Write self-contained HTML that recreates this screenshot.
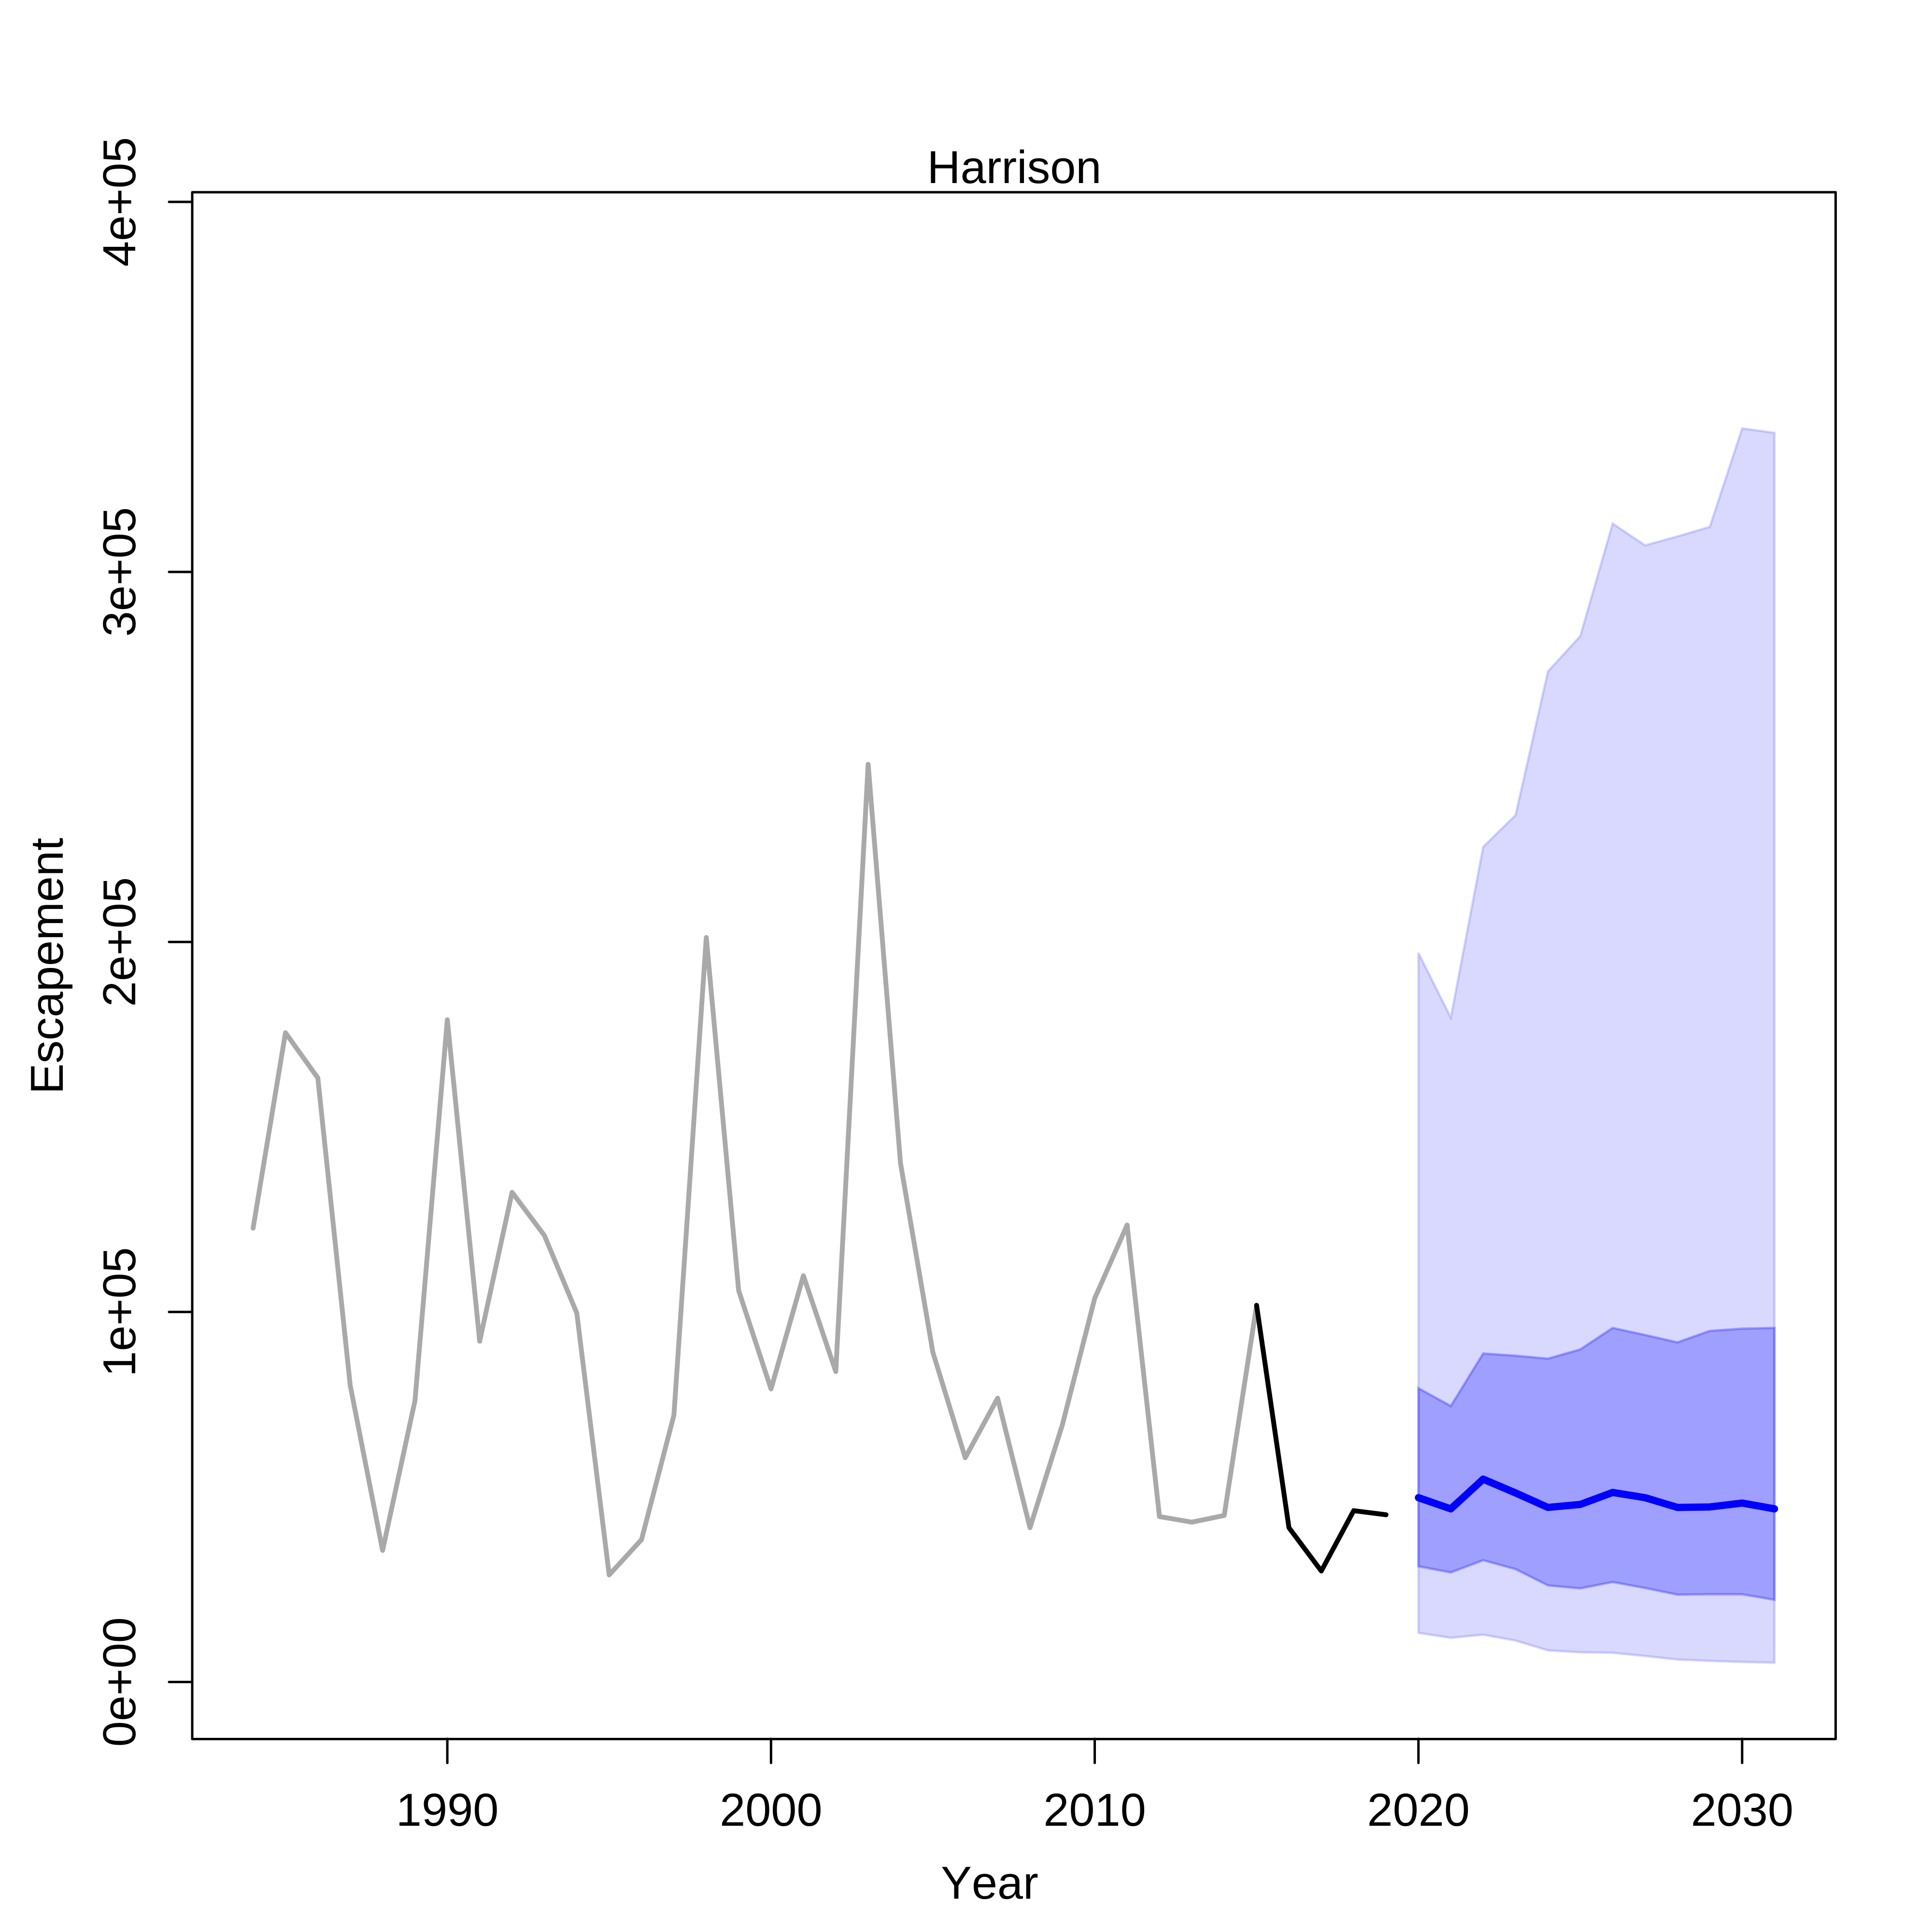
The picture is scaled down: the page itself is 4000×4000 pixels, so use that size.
<!DOCTYPE html>
<html lang="en">
<head>
<meta charset="utf-8">
<title>Harrison Escapement</title>
<style>
html,body{margin:0;padding:0;background:#fff;width:4000px;height:4000px;overflow:hidden}
svg{display:block}
text{font-family:"Liberation Sans",Arial,sans-serif;font-size:95.5px;font-kerning:none;fill:#000}
</style>
</head>
<body>
<svg id="chart" xmlns="http://www.w3.org/2000/svg" width="4000" height="4000" viewBox="0 0 4000 4000">
  <rect x="0" y="0" width="4000" height="4000" fill="#fff"/>
  <g id="bands"></g>
  <g id="lines"></g>
  <g id="axes"></g>
  <rect x="398" y="398" width="3402.5" height="3202.5" fill="none" stroke="#000" stroke-width="5" stroke-linejoin="round"/>
  <text x="2100" y="379" text-anchor="middle">Harrison</text>
  <text x="2049" y="3931" text-anchor="middle">Year</text>
  <text x="130" y="2000" text-anchor="middle" transform="rotate(-90 130 2000)">Escapement</text>
</svg>
<script>
const historyYears = [1984,1985,1986,1987,1988,1989,1990,1991,1992,1993,1994,1995,1996,1997,1998,1999,2000,2001,2002,2003,2004,2005,2006,2007,2008,2009,2010,2011,2012,2013,2014,2015];
const historyValues = [122640,175460,163240,80180,35560,76000,178960,92100,132340,120660,99700,28940,38500,72100,201200,105800,79200,109800,83900,248000,140200,89100,60600,76700,41700,69500,103700,123500,44700,43200,45000,101800];
const recentYears = [2015,2016,2017,2018,2019];
const recentValues = [101800,41700,30000,46300,45200];
const forecastYears = [2020,2021,2022,2023,2024,2025,2026,2027,2028,2029,2030,2031];
const outerUpper = [197050,179600,225700,234300,273100,282700,313100,307200,309600,312200,338800,337600];
const outerLower = [13280,11930,12770,11190,8540,8020,7890,7020,6060,5690,5400,5200];
const innerUpper = [79400,74600,88800,88200,87400,89900,95700,93800,91800,94900,95500,95700];
const innerLower = [31250,29600,32900,30500,26100,25300,27000,25400,23600,23700,23700,22200];
const medianValues = [49820,46790,54820,51100,47180,47990,51230,49820,47180,47310,48360,46790];
const xTickValues = [1990,2000,2010,2020,2030];
const xTickLabels = ["1990","2000","2010","2020","2030"];
const yTickValues = [0,100000,200000,300000,400000];
const yTickLabels = ["0e+00","1e+05","2e+05","3e+05","4e+05"];

const NS = "http://www.w3.org/2000/svg";
function xScale(year){ return 524 + (year - 1984) * 67.02; }
function yScale(value){ return 3482.4 - value * (3064.4 / 400000); }
function make(tag, parent){
  const el = document.createElementNS(NS, tag);
  parent.appendChild(el);
  return el;
}
function linePoints(xs, ys){
  return xs.map(function(x, i){ return xScale(x).toFixed(2) + "," + yScale(ys[i]).toFixed(2); }).join(" ");
}
function bandPoints(xs, upper, lower){
  const top = xs.map(function(x, i){ return xScale(x).toFixed(2) + "," + yScale(upper[i]).toFixed(2); });
  const bottom = xs.map(function(x, i){ return xScale(x).toFixed(2) + "," + yScale(lower[i]).toFixed(2); }).reverse();
  return top.concat(bottom).join(" ");
}
function styleLine(el, color, width){
  el.setAttribute("fill", "none");
  el.setAttribute("stroke", color);
  el.setAttribute("stroke-width", width);
  el.setAttribute("stroke-linecap", "round");
  el.setAttribute("stroke-linejoin", "round");
}

const bands = document.getElementById("bands");
const lines = document.getElementById("lines");
const axes = document.getElementById("axes");

const outerBand = make("polygon", bands);


outerBand.setAttribute("points", bandPoints(forecastYears, outerUpper, outerLower));
outerBand.setAttribute("fill", "rgba(0,0,255,0.15)");
outerBand.setAttribute("stroke", "rgba(0,0,255,0.15)");
outerBand.setAttribute("stroke-width", "5");

const innerBand = make("polygon", bands);


innerBand.setAttribute("points", bandPoints(forecastYears, innerUpper, innerLower));
innerBand.setAttribute("fill", "rgba(0,0,255,0.267)");
innerBand.setAttribute("stroke", "rgba(0,0,255,0.267)");
innerBand.setAttribute("stroke-width", "5");

const historyLine = make("polyline", lines);


historyLine.setAttribute("points", linePoints(historyYears, historyValues));
styleLine(historyLine, "#A9A9A9", 10);

const recentLine = make("polyline", lines);


recentLine.setAttribute("points", linePoints(recentYears, recentValues));
styleLine(recentLine, "#000", 10);

const medianLine = make("polyline", lines);


medianLine.setAttribute("points", linePoints(forecastYears, medianValues));
styleLine(medianLine, "#00f", 15);

xTickValues.forEach(function(value, i){
  const px = xScale(value);
  const tick = make("line", axes);
  
  
  tick.setAttribute("x1", px);
  tick.setAttribute("x2", px);
  tick.setAttribute("y1", 3600);
  tick.setAttribute("y2", 3650);
  styleLine(tick, "#000", 5);
  const label = make("text", axes);
  
  
  label.setAttribute("x", px);
  label.setAttribute("y", 3780);
  label.setAttribute("text-anchor", "middle");
  label.textContent = xTickLabels[i];
});

yTickValues.forEach(function(value, i){
  const py = yScale(value);
  const tick = make("line", axes);
  
  
  tick.setAttribute("x1", 350);
  tick.setAttribute("x2", 398);
  tick.setAttribute("y1", py);
  tick.setAttribute("y2", py);
  styleLine(tick, "#000", 5);
  const label = make("text", axes);
  
  
  label.setAttribute("x", 280);
  label.setAttribute("y", py);
  label.setAttribute("text-anchor", "middle");
  label.setAttribute("transform", "rotate(-90 280 " + py + ")");
  label.textContent = yTickLabels[i];
});
</script>
</body>
</html>
